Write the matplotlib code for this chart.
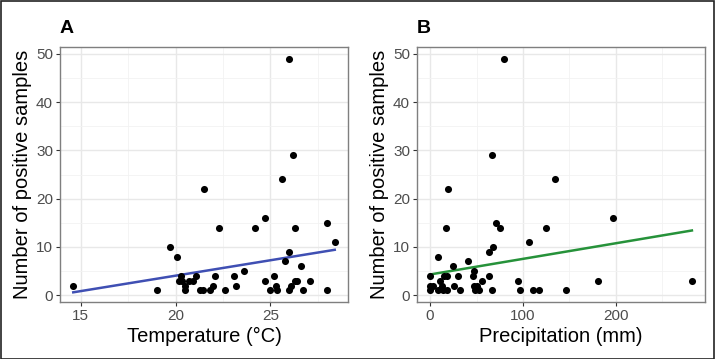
import numpy as np
import matplotlib
matplotlib.use("Agg")
import matplotlib.pyplot as plt
from matplotlib.patches import Rectangle

plt.rcParams["font.family"] = ["Liberation Sans", "DejaVu Sans"]

# 温度 vs 阳性样本数
temp = [14.6, 19.0, 19.7, 20.1, 20.3, 20.2, 20.35, 20.5, 20.5, 20.7, 20.9, 21.1,
        21.3, 21.45, 21.5, 21.8, 22.0, 22.1, 22.3, 22.6, 23.1, 23.2, 23.6, 24.2,
        24.7, 24.7, 24.96, 25.2, 25.3, 25.35, 25.6, 25.8, 26.0, 26.0, 26.1, 26.2,
        26.3, 26.3, 26.4, 26.6, 26.7, 27.1, 28.0, 28.0, 28.4, 26.0]
pos_a = [2, 1, 10, 8, 4, 3, 3, 2, 1, 3, 3, 4,
         1, 1, 22, 1, 2, 4, 14, 1, 4, 2, 5, 14,
         3, 16, 1, 4, 2, 1, 24, 7, 9, 1, 2, 29,
         3, 14, 3, 6, 1, 3, 15, 1, 11, 49]
fit_a = (-8.71, 0.638)  # 截距, 斜率

# 降水 vs 阳性样本数
precip = [0, 0, 0, 3.6, 8.3, 9, 11, 12.6, 14, 15, 17, 18, 18.7, 19.7, 25, 26,
          30.5, 32, 41, 46.7, 47.8, 47, 48.5, 51, 53, 55.7, 63.5, 63.5, 67, 67,
          68, 71, 75, 80, 95, 97, 107, 111, 117, 125, 135, 146, 181, 197.5, 282]
pos_b = [4, 2, 1, 2, 8, 1, 3, 2, 1, 4, 14, 1, 4, 22, 6, 2,
         4, 1, 7, 4, 5, 2, 1, 2, 1, 3, 4, 9, 29, 1,
         10, 15, 14, 49, 3, 1, 11, 1, 1, 14, 24, 1, 3, 16, 3]
fit_b = (4.3, 0.0323)

W, H = 715, 359
fig = plt.figure(figsize=(W / 100, H / 100), dpi=100)
fig.patches.append(Rectangle((0.5 / W, 0.5 / H), 1 - 1.5 / W, 1 - 1.5 / H,
                             transform=fig.transFigure, fill=False,
                             edgecolor="#222222", linewidth=1.2))


def panel(left, x, y, fit, color, xlim, xticks, xminor, xlabel, letter):
    ax = fig.add_axes([left / W, (H - 302) / H, 288 / W, 255 / H])
    ax.set_xlim(*xlim)
    ax.set_ylim(-1.4, 51.4)
    ax.set_xticks(xticks)
    ax.set_xticks(xminor, minor=True)
    ax.set_yticks([0, 10, 20, 30, 40, 50])
    ax.set_yticks([5, 15, 25, 35, 45], minor=True)
    ax.grid(True, which="major", color="#e8e8e8", linewidth=1.0)
    ax.grid(True, which="minor", color="#f2f2f2", linewidth=0.6)
    ax.set_axisbelow(True)
    for s in ax.spines.values():
        s.set_color("#7f7f7f")
        s.set_linewidth(1.0)
    ax.tick_params(which="major", length=3, width=0.8, color="#333333",
                   labelsize=11, labelcolor="#4d4d4d", pad=2)
    ax.tick_params(which="minor", length=0)
    ax.scatter(x, y, s=26, color="black", zorder=3, linewidths=0)
    b, k = fit
    xx = np.array([min(x), max(x)])
    ax.plot(xx, k * xx + b, color=color, linewidth=1.8, zorder=2)
    ax.set_xlabel(xlabel, fontsize=14.5, labelpad=3)
    ax.set_ylabel("Number of positive samples", fontsize=14.5, labelpad=3)
    ax.text(0.0, 1.04, letter, transform=ax.transAxes, fontsize=14,
            fontweight="bold", ha="left", va="bottom")
    return ax


panel(60, temp, pos_a, fit_a, "#3f4fb3", (13.9, 29.1), [15, 20, 25],
      [17.5, 22.5, 27.5], "Temperature (°C)", "A")
panel(417, precip, pos_b, fit_b, "#26923a", (-14.1, 296.1), [0, 100, 200],
      [50, 150, 250], "Precipitation (mm)", "B")

fig.savefig("out.png", dpi=100)
